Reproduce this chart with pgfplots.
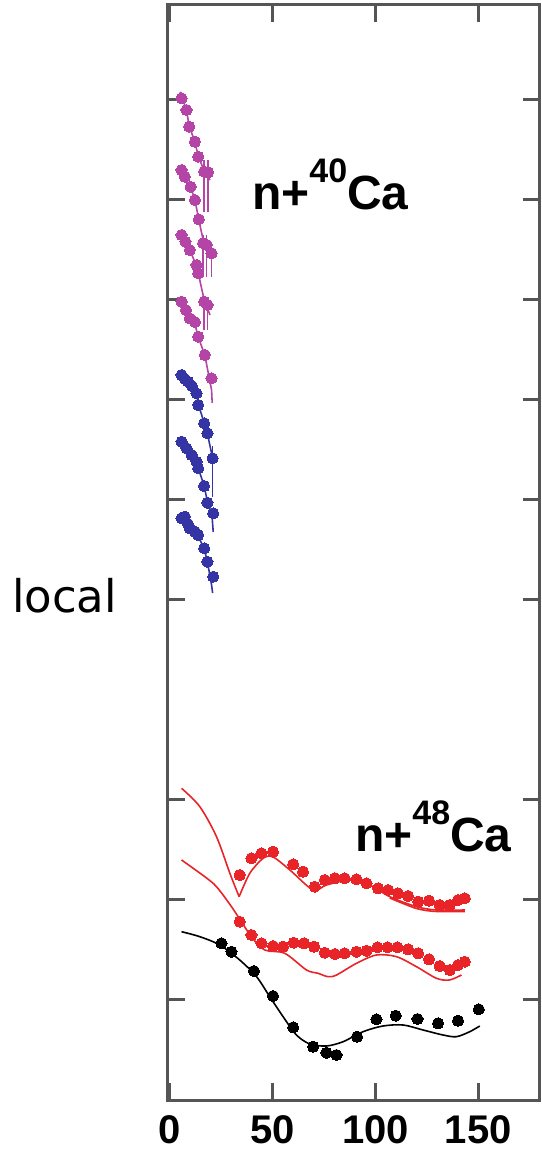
\documentclass[border=0pt]{standalone}
\usepackage{fontspec}
\setmainfont{Liberation Sans}
\newfontfamily\dejavu{DejaVu Sans}
\usepackage{pgfplots}
\pgfplotsset{compat=1.18}
\definecolor{axisgray}{RGB}{85,85,85}
\definecolor{cmag}{RGB}{180,68,165}
\definecolor{cblue}{RGB}{52,52,165}
\definecolor{cred}{RGB}{232,36,40}
\begin{document}
\begin{tikzpicture}
\begin{axis}[
  at={(0,0)}, anchor=south west,
  scale only axis, width=372pt, height=1095pt,
  xmin=-1, xmax=180, ymin=0, ymax=10.95,
  xtick={0,50,100,150}, xticklabels={0,50,100,150},
  ytick={1,2,3,5,6,7,8,9,10}, yticklabels={},
  tick align=inside, tick pos=both,
  major tick length=17pt,
  axis line style={line width=3pt, color=axisgray},
  every tick/.style={line width=3pt, color=axisgray},
  xticklabel style={font=\fontsize{40}{40}\selectfont\bfseries, yshift=-12pt},
  clip=false,
  pts/.style={only marks, mark=*, mark size=5.6pt, mark options={line width=0pt}},
  thy/.style={no marks, line width=1.6pt},
  eb/.style={only marks, mark=*, mark size=5.6pt, mark options={line width=0pt},
    error bars/y dir=both, error bars/y explicit, error bars/error mark=none,
    error bars/error bar style={line width=1.5pt}},
]
% ---------------- n+40Ca magenta ----------------
\addplot[thy, cmag] coordinates {(5,10.08) (8.1,9.9) (9.4,9.74) (12.2,9.58) (13.8,9.44) (16.7,9.29) (19.5,9.2)};
\addplot[pts, cmag] coordinates {(5.7,10.017) (8.1,9.90) (9.4,9.733) (12.2,9.583) (13.8,9.433) (16.7,9.283) (18.6,9.277)};
\addplot[eb, cmag] coordinates {(16.7,9.283) += (0,0.12) -= (0,0.40) (18.6,9.277) += (0,0.12) -= (0,0.40)};

\addplot[thy, cmag] coordinates {(5,9.33) (7.3,9.23) (10.1,9.13) (12.2,9.0) (14.1,8.8) (16.2,8.6) (18,8.5) (20.3,8.42)};
\addplot[pts, cmag] coordinates {(5.7,9.30) (7.3,9.233) (10.1,9.133) (12.2,9.00) (14.1,8.807) (16.2,8.567) (17.9,8.55) (20.3,8.467)};
\addplot[eb, cmag] coordinates {(16.2,8.567) += (0,0.08) -= (0,0.34) (17.9,8.55) += (0,0.1) -= (0,0.32) (20.3,8.467) += (0,0.1) -= (0,0.24)};

\addplot[thy, cmag] coordinates {(5,8.68) (7.6,8.58) (9.7,8.5) (13,8.34) (13.8,8.27) (16.7,8.0) (18.3,7.92) (19.5,7.85)};
\addplot[pts, cmag] coordinates {(5.7,8.65) (7.6,8.583) (9.7,8.50) (13.0,8.35) (13.8,8.267) (16.7,7.983) (18.3,7.95)};
\addplot[eb, cmag] coordinates {(16.7,7.983) += (0,0.05) -= (0,0.28) (18.3,7.95) += (0,0.05) -= (0,0.25)};

\addplot[thy, cmag] coordinates {(5,8.0) (7.8,7.9) (9.7,7.82) (12.2,7.76) (13.8,7.63) (17,7.45) (20.3,7.1) (20.6,6.97)};
\addplot[pts, cmag] coordinates {(5.7,7.983) (7.8,7.90) (9.7,7.817) (12.2,7.78) (13.8,7.633) (17.0,7.45) (20.3,7.217)};

% ---------------- n+40Ca blue ----------------
\addplot[thy, cblue] coordinates {(5,7.27) (7.3,7.21) (8.9,7.18) (10.7,7.14) (13,7.06) (13.8,6.96) (16.7,6.77) (18.3,6.66) (20.8,6.42)};
\addplot[pts, cblue] coordinates {(5.7,7.25) (7.3,7.21) (8.9,7.183) (10.7,7.14) (13.0,7.067) (13.8,6.95) (16.7,6.767) (18.3,6.667)};
\addplot[eb, cblue] coordinates {(20.8,6.417) += (0,0.12) -= (0,0.39)};

\addplot[thy, cblue] coordinates {(5,6.6) (8.1,6.52) (10.6,6.45) (13,6.38) (13.8,6.32) (16.7,6.14) (18.3,5.98) (20.5,5.85) (21.1,5.68)};
\addplot[pts, cblue] coordinates {(5.7,6.583) (8.1,6.517) (10.6,6.45) (13.0,6.383) (13.8,6.317) (16.7,6.14) (18.3,5.973) (21.1,5.867)};

\addplot[thy, cblue] coordinates {(5,5.83) (7.3,5.82) (8.8,5.76) (9.7,5.72) (12.2,5.68) (13.8,5.64) (16.7,5.51) (18.3,5.38) (20.3,5.15) (20.8,5.07)};
\addplot[pts, cblue] coordinates {(5.7,5.817) (7.3,5.833) (8.8,5.76) (9.7,5.717) (12.2,5.683) (13.8,5.65) (16.7,5.517) (18.3,5.383) (21.1,5.233)};

% ---------------- n+48Ca ----------------
\addplot[thy, cred, smooth] coordinates {(5.7,3.117) (14.6,2.933) (22.7,2.633) (29.2,2.267) (33.7,2.033)};
\addplot[thy, cred, smooth] coordinates {(33.7,2.033) (38.9,2.267) (45.4,2.417) (50.2,2.43) (58.4,2.30) (69.7,2.10) (76.2,2.15) (87.5,2.20) (97.3,2.15) (107.0,2.033) (120.0,1.933) (129.7,1.90) (143.5,1.90)};
\addplot[thy, cred, smooth] coordinates {(107.0,2.02) (120.0,1.915) (129.7,1.885) (143.5,1.885)};
\addplot[pts, cred] coordinates {(34.0,2.25) (39.7,2.417) (44.6,2.467) (50.2,2.483) (60.0,2.357) (64.8,2.283) (70.5,2.133) (75.4,2.20) (80.3,2.217) (85.1,2.217) (90.8,2.207) (95.7,2.167) (101.3,2.117) (106.2,2.10) (111.0,2.067) (115.9,2.04) (120.8,1.983) (126.1,1.993) (131.3,1.95) (136.2,1.95) (140.2,2.00) (143.5,2.017)};

\addplot[thy, cred, smooth] coordinates {(5.7,2.40) (17.0,2.233) (22.7,2.133) (30.0,1.933) (39.7,1.633) (46.2,1.50) (55.9,1.467) (66.5,1.30) (72.1,1.267) (77.0,1.233) (81.1,1.25) (90.8,1.367) (100.5,1.45) (110.3,1.433) (120.0,1.333) (129.7,1.217) (136,1.2) (141.9,1.25)};
\addplot[pts, cred] coordinates {(34.0,1.783) (39.7,1.65) (44.6,1.567) (50.2,1.54) (55.1,1.533) (60.3,1.573) (65.3,1.567) (70.2,1.533) (75.4,1.473) (80.3,1.46) (85.1,1.467) (90.8,1.483) (95.7,1.493) (101.0,1.527) (105.9,1.527) (110.7,1.527) (115.9,1.507) (120.8,1.467) (126.1,1.407) (131.3,1.34) (136.2,1.30) (140.2,1.35) (143.5,1.383)};

\addplot[thy, black, smooth] coordinates {(5.7,1.683) (14.6,1.633) (24.3,1.55) (34.0,1.40) (42.2,1.233) (48.6,1.033) (55.1,0.833) (61.6,0.65) (68.1,0.56) (76.2,0.54) (84.3,0.583) (94.0,0.683) (103.7,0.74) (113.5,0.75) (123.2,0.70) (132.9,0.65) (139.4,0.633) (145.9,0.683) (150.8,0.74)};
\addplot[pts, black] coordinates {(25.1,1.567) (30.0,1.483) (40.9,1.29) (50.2,1.04) (60.0,0.727) (69.7,0.533) (76.2,0.473) (81.1,0.45) (91.1,0.633) (100.5,0.807) (109.9,0.843) (120.5,0.81) (130.5,0.767) (140.2,0.793) (150.3,0.907)};

% labels
\node[anchor=base west, inner sep=0pt, font=\fontsize{48}{48}\selectfont\bfseries] at (axis cs:39.9,8.90) {n+\raisebox{0.58em}{\fontsize{34}{34}\selectfont 40}Ca};
\node[anchor=base west, inner sep=0pt, font=\fontsize{48}{48}\selectfont\bfseries] at (axis cs:90.0,2.48) {n+\raisebox{0.58em}{\fontsize{34}{34}\selectfont 48}Ca};
\end{axis}
\node[anchor=base west, inner sep=0pt, font=\dejavu\fontsize{45}{45}\selectfont] at (-155.8pt,487pt) {local};
\pgfresetboundingbox
\useasboundingbox (-167.8pt,-51pt) rectangle (373.2pt,1100pt);
\end{tikzpicture}
\end{document}
